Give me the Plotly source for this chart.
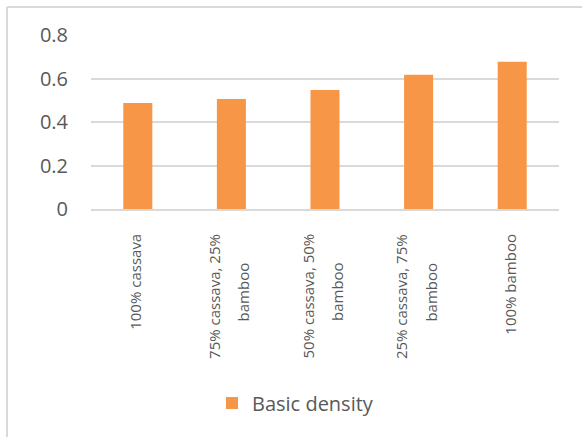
import plotly.graph_objects as go

categories = ["100% cassava", "75% cassava, 25% bamboo", "50% cassava, 50% bamboo",
              "25% cassava, 75% bamboo", "100% bamboo"]
tick_lines = [["100% cassava"], ["75% cassava, 25%", "bamboo"], ["50% cassava, 50%", "bamboo"],
              ["25% cassava, 75%", "bamboo"], ["100% bamboo"]]
values = [0.487, 0.506, 0.547, 0.617, 0.677]
series_name = "Basic density"
y_ticks = [0, 0.2, 0.4, 0.6, 0.8]
y_ticktext = ["0", "0.2", "0.4", "0.6", "0.8"]

W, H = 582, 437
L, R, T, B = 91, 23, 35, 228
pw, ph = W - L - R, H - T - B

def px_x(x):
    return (x - L) / pw

def px_y(y):
    return (H - B - y) / ph

fig = go.Figure()
fig.add_trace(go.Bar(x=categories, y=values, name=series_name,
                     marker=dict(color="#F79646", line=dict(width=0))))

annotations = []
for cat, lines in zip(categories, tick_lines):
    n = len(lines)
    for i, line in enumerate(lines):
        shift = (i - (n - 1) / 2) * 30 - 3
        if i == 0:
            yy, ya = px_y(232), "top"
        else:
            yy, ya = px_y(292), "middle"
        annotations.append(dict(x=cat, xref="x", y=yy, yref="paper", text=line,
                                textangle=-90, showarrow=False, xanchor="center",
                                yanchor=ya, xshift=shift,
                                font=dict(family="Open Sans", size=15, color="#595959")))

fig.update_layout(
    width=W, height=H,
    margin=dict(l=L, r=R, t=T, b=B, autoexpand=False),
    paper_bgcolor="white", plot_bgcolor="white",
    font=dict(family="Open Sans", color="#595959"),
    bargap=0.69,
    showlegend=True,
    legend=dict(orientation="h", x=px_x(212), xanchor="left", y=px_y(403), yanchor="middle",
                font=dict(size=20, color="#595959"), itemwidth=30),
    xaxis=dict(showticklabels=False,
               showline=True, linecolor="#D9D9D9", linewidth=1.5,
               ticks="", showgrid=False),
    yaxis=dict(range=[0, 0.8], tickvals=y_ticks, ticktext=y_ticktext,
               tickfont=dict(size=20, color="#595959"),
               showgrid=True, gridcolor="#D9D9D9", gridwidth=1.5,
               zeroline=False, showline=False, ticks="", ticklabelstandoff=22),
    annotations=annotations,
    shapes=[
        dict(type="line", xref="paper", yref="paper", x0=px_x(7), x1=px_x(600),
             y0=px_y(7), y1=px_y(7), line=dict(color="#D9D9D9", width=2)),
        dict(type="line", xref="paper", yref="paper", x0=px_x(7), x1=px_x(7),
             y0=px_y(7), y1=px_y(450), line=dict(color="#D9D9D9", width=2)),
    ],
)

fig.write_html("out.html")
